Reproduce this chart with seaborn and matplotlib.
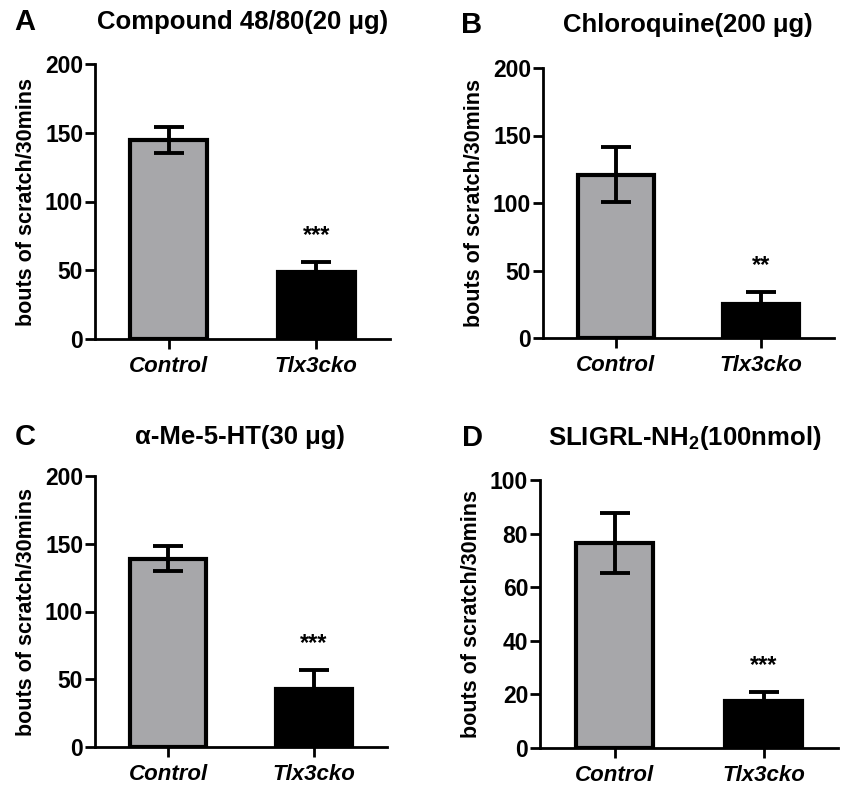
import numpy as np
import pandas as pd
import seaborn as sns
import matplotlib.pyplot as plt

# values (mean and SEM per panel)
groups = ["Control", "Tlx3cko"]
titles = ["Compound 48/80(20 μg)", "Chloroquine(200 μg)",
          "α-Me-5-HT(30 μg)", r"SLIGRL-NH$_2$(100nmol)"]
letters = ["A", "B", "C", "D"]
means_a = [145, 49]
err_a = [9.5, 7]
means_b = [121, 25]
err_b = [20.5, 9]
means_c = [139, 43]
err_c = [9, 14]
means_d = [76.5, 17.5]
err_d = [11.2, 3.5]
stars = ["***", "**", "***", "***"]
ymax = [200, 200, 200, 100]
ystep = [50, 50, 50, 20]

sns.set_style("white")
plt.rcParams['font.family'] = ['Liberation Sans', 'DejaVu Sans']
plt.rcParams['font.weight'] = 'bold'
plt.rcParams['text.color'] = 'black'
plt.rcParams['mathtext.fontset'] = 'custom'
plt.rcParams['mathtext.rm'] = 'Liberation Sans:bold'
plt.rcParams['mathtext.default'] = 'rm'

W, H = 850, 790
fig = plt.figure(figsize=(8.5, 7.9), dpi=100)

# axes boxes in pixels: left, right, top(ymax), bottom(0)
boxes = [(95, 390, 64, 339), (543, 834, 68, 338),
         (95, 387, 476, 747), (540, 838, 480, 748)]
title_pos = [(243, 22), (688, 25), (240, 437), (685, 438)]
letter_pos = [(25, 22), (472, 25), (25, 437), (472, 438)]

all_means = [means_a, means_b, means_c, means_d]
all_err = [err_a, err_b, err_c, err_d]

for i in range(4):
    l, r, t, b = boxes[i]
    ax = fig.add_axes([l / W, 1 - b / H, (r - l) / W, (b - t) / H])
    df = pd.DataFrame({"group": groups, "value": all_means[i]})
    sns.barplot(data=df, x="group", y="value", hue="group",
                palette=["#a7a6ab", "#000000"], width=0.52,
                edgecolor="black", linewidth=3, legend=False, ax=ax)
    ax.errorbar(range(2), all_means[i], yerr=all_err[i], fmt="none",
                ecolor="black", elinewidth=2.8, capsize=11, capthick=2.8,
                zorder=5)
    ax.text(1, all_means[i][1] + all_err[i][1] + ymax[i] * 0.055, stars[i],
            ha="center", va="bottom", fontsize=17, fontweight="bold",
            color="black")
    ax.set_xlim(-0.5, 1.5)
    ax.set_ylim(0, ymax[i])
    ax.set_yticks(np.arange(0, ymax[i] + 1, ystep[i]))
    ax.set_xlabel("")
    ax.set_ylabel("bouts of scratch/30mins", fontsize=15.5, fontweight="bold",
                  labelpad=6, color="black")
    ax.set_xticks(range(2))
    ax.set_xticklabels(groups, fontsize=16, fontweight="bold", style="italic")
    for lab in ax.get_yticklabels():
        lab.set_fontsize(16.5)
        lab.set_fontweight("bold")
    sns.despine(ax=ax)
    for s in ["left", "bottom"]:
        ax.spines[s].set_linewidth(2)
        ax.spines[s].set_color("black")
    ax.tick_params(axis="both", direction="out", length=7, width=2,
                   colors="black", labelcolor="black", left=True, bottom=True,
                   pad=1.5)
    ax.tick_params(axis="x", pad=5)
    tx, ty = title_pos[i]
    fig.text(tx / W, 1 - ty / H, titles[i], ha="center", va="center",
             fontsize=18.5, fontweight="bold")
    lx, ly = letter_pos[i]
    fig.text(lx / W, 1 - ly / H, letters[i], ha="center", va="center",
             fontsize=21, fontweight="bold")

fig.savefig("out.png", dpi=100)
